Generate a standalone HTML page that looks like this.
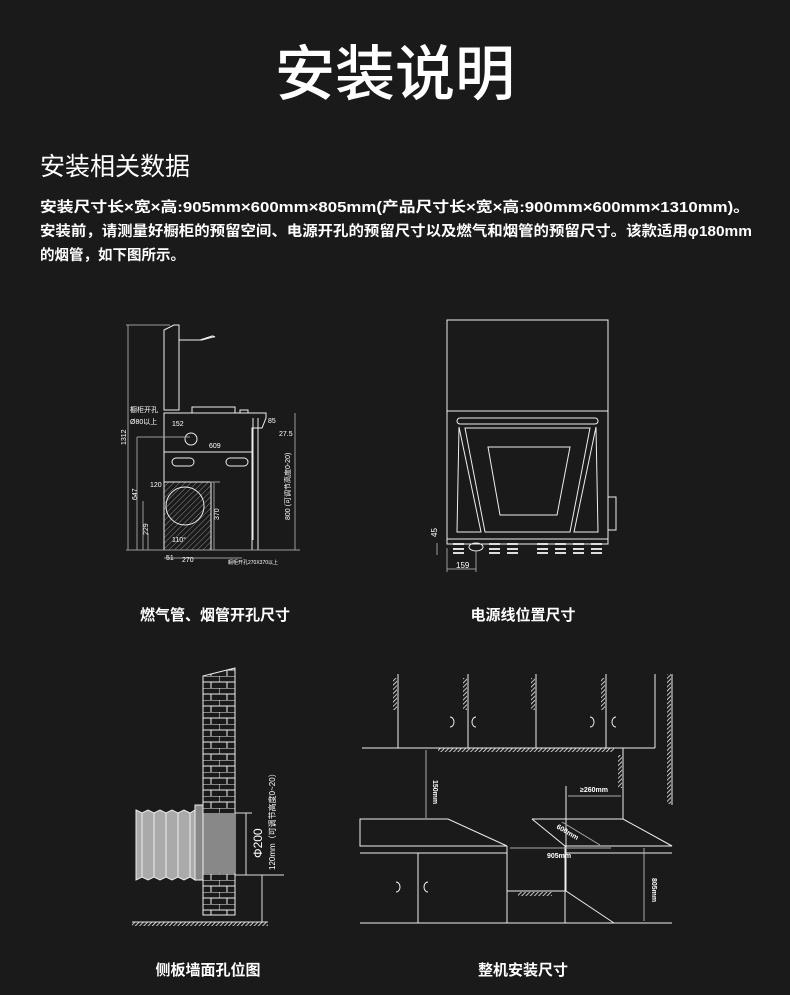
<!DOCTYPE html>
<html><head><meta charset="utf-8"><style>
html,body{margin:0;padding:0;background:#1a1a1a;}
svg{display:block}
text{font-family:"Liberation Sans","Noto Sans CJK SC",sans-serif;fill:#fff}
</style></head><body>
<svg width="790" height="995" viewBox="0 0 790 995" xmlns="http://www.w3.org/2000/svg">
<defs>
<pattern id="h" width="3" height="3" patternUnits="userSpaceOnUse" patternTransform="rotate(45)"><line x1="0" y1="0" x2="0" y2="3" stroke="#eee" stroke-width="1.6"/></pattern>
<pattern id="h2" width="4" height="4" patternUnits="userSpaceOnUse" patternTransform="rotate(45)"><line x1="0" y1="0" x2="0" y2="4" stroke="#888" stroke-width="1"/></pattern>
<pattern id="brick" width="16" height="12" patternUnits="userSpaceOnUse" x="203" y="676"><rect width="16" height="12" fill="#1a1a1a"/><path d="M0 0H16M0 6H16M0 0V6M8 6V12" stroke="#eee" stroke-width="1" fill="none"/></pattern>
</defs>
<rect width="790" height="995" fill="#1a1a1a"/>
<text x="395" y="95" font-size="60" text-anchor="middle" font-weight="500">安装说明</text>
<text x="40" y="175" font-size="25">安装相关数据</text>
<g font-size="14.5" font-weight="bold">
<text x="40" y="212" textLength="710" lengthAdjust="spacingAndGlyphs">安装尺寸长×宽×高:905mm×600mm×805mm(产品尺寸长×宽×高:900mm×600mm×1310mm)。</text>
<text x="40" y="236" textLength="712" lengthAdjust="spacingAndGlyphs">安装前，请测量好橱柜的预留空间、电源开孔的预留尺寸以及燃气和烟管的预留尺寸。该款适用φ180mm</text>
<text x="40" y="260">的烟管，如下图所示。</text>
</g>
<g font-size="15" font-weight="bold" text-anchor="middle">
<text x="215" y="620">燃气管、烟管开孔尺寸</text>
<text x="523" y="620">电源线位置尺寸</text>
<text x="208" y="975">侧板墙面孔位图</text>
<text x="523" y="975">整机安装尺寸</text>
</g>

<!-- Diagram 1 -->
<g stroke="#eee" stroke-width="1" fill="none">
<path d="M164 330L174 325H179V410H164Z"/>
<path d="M179 340H200L212 336H213L215 337H213L202 340H179"/>
<rect x="192" y="407" width="43" height="6"/>
<path d="M240 410h8v3h-8z"/>
<path d="M164 413H266V418L262 428H252V550H164Z"/>
<path d="M164 452H252"/>
<rect x="172" y="458" width="22" height="8" rx="4"/>
<rect x="226" y="458" width="22" height="8" rx="4"/>
<circle cx="191" cy="439" r="6"/>
<rect x="164" y="482" width="47" height="68" fill="url(#h2)"/>
<circle cx="185" cy="506" r="19"/>
<path d="M253 418V540M258 418V550"/>
<path d="M128 325V550M295 413V550M137 437V550M143 501V550M148 533V550" stroke="#999"/>
<path d="M126 550H300M126 325H170M137 437H190M210 482H220M214 482V550M164 558H242" stroke="#999"/>
</g>
<g font-size="7" fill="#ddd" stroke="none">
<text x="130" y="412">橱柜开孔</text><text x="130" y="424">Ø80以上</text>
<text x="172" y="426">152</text><text x="209" y="448">609</text><text x="279" y="436">27.5</text><text x="268" y="423">85</text>
<text x="150" y="487">120</text><text x="172" y="542">110°</text><text x="166" y="560">51</text><text x="182" y="562">270</text>
<text x="228" y="564" font-size="5">橱柜开孔270X370以上</text>
<text transform="translate(126 445) rotate(-90)">1312</text>
<text transform="translate(137 500) rotate(-90)">647</text>
<text transform="translate(148 535) rotate(-90)">229</text>
<text transform="translate(219 520) rotate(-90)">370</text>
<text transform="translate(290 520) rotate(-90)">800 (可调节高度0-20)</text>
</g>

<!-- Diagram 2 -->
<g stroke="#eee" stroke-width="1" fill="none">
<rect x="447" y="320" width="161" height="91"/>
<rect x="447" y="411" width="161" height="133"/>
<rect x="457" y="418" width="141" height="6" rx="3"/>
<path d="M459 427L481 532H457ZM596 427L574 532H598Z"/>
<path d="M465 428H590L570 532H485Z"/>
<path d="M488 447H570L557 515H500Z"/>
<rect x="608" y="497" width="8" height="33"/>
<path d="M447 539H608"/>
</g>
<g fill="#ddd">
<rect x="453" y="543" width="11" height="2"/><rect x="453" y="548" width="11" height="2"/><rect x="453" y="552" width="11" height="2"/>
<rect x="489" y="543" width="11" height="2"/><rect x="507" y="543" width="11" height="2"/><rect x="537" y="543" width="11" height="2"/><rect x="555" y="543" width="11" height="2"/><rect x="573" y="543" width="11" height="2"/><rect x="591" y="543" width="11" height="2"/>
<rect x="489" y="548" width="11" height="2"/><rect x="507" y="548" width="11" height="2"/><rect x="537" y="548" width="11" height="2"/><rect x="555" y="548" width="11" height="2"/><rect x="573" y="548" width="11" height="2"/><rect x="591" y="548" width="11" height="2"/>
<rect x="489" y="552" width="11" height="2"/><rect x="507" y="552" width="11" height="2"/><rect x="537" y="552" width="11" height="2"/><rect x="555" y="552" width="11" height="2"/><rect x="573" y="552" width="11" height="2"/><rect x="591" y="552" width="11" height="2"/>
</g>
<ellipse cx="476" cy="547" rx="7" ry="4" stroke="#eee" fill="none"/>
<path d="M447 548V572M476 550V572M447 569H476M437 543V555" stroke="#999" fill="none"/>
<text x="456" y="568" font-size="8" fill="#ddd">159</text>
<text transform="translate(437 537) rotate(-90)" font-size="8">45</text>

<!-- Diagram 3 -->
<path d="M203 676L235 668V915H203Z" fill="url(#brick)" stroke="#eee"/>
<rect x="203" y="813" width="32" height="60" fill="#888"/>
<path d="M195 805H203V880H195Z" fill="#888" stroke="#eee"/>
<path d="M136 810L142 813L148 810L154 813L160 810L166 813L172 810L178 813L184 810L190 813L195 810V880L190 877L184 880L178 877L172 880L166 877L160 880L154 877L148 880L142 877L136 880Z" fill="#aaa" stroke="#eee"/>
<path d="M142 813V877M154 813V877M166 813V877M178 813V877M190 813V877" stroke="#eee"/>
<path d="M235 813H252M235 875H284M246 813V875M262 875V922M132 922H268" stroke="#ddd" fill="none"/>
<rect x="132" y="922" width="136" height="4" fill="url(#h)"/>
<text transform="translate(262 858) rotate(-90)" font-size="12">Φ200</text>
<text transform="translate(275 870) rotate(-90)" font-size="8">120mm（可调节高度0~20）</text>

<!-- Diagram 4 -->
<g stroke="#eee" stroke-width="1" fill="none">
<path d="M398 674V748M468 674V748M536 674V748M606 674V748M655 674V748M672 674V805"/>
<path d="M362 748H655M623 748V819"/>
<path d="M360 819H448L507 846H360ZM532 819H623L672 846H565L532 819"/>
<path d="M360 853H507V923H360M418 853V923M507 846V853M565 846V923H672M565 853H672M507 891H566L614 923"/>
<path d="M566 786V891"/>
<path d="M360 923H672"/>
<path d="M450 717a4 5 0 0 1 0 10M476 717a4 5 0 0 0 0 10M590 717a4 5 0 0 1 0 10M616 717a4 5 0 0 0 0 10M396 882a4 5 0 0 1 0 10M428 882a4 5 0 0 0 0 10"/>
</g>
<rect x="393" y="678" width="4" height="32" fill="url(#h)"/>
<rect x="463" y="678" width="4" height="32" fill="url(#h)"/>
<rect x="531" y="678" width="4" height="32" fill="url(#h)"/>
<rect x="601" y="678" width="4" height="32" fill="url(#h)"/>
<rect x="667" y="674" width="4" height="130" fill="url(#h)"/>
<rect x="438" y="748" width="176" height="4" fill="url(#h)"/>
<rect x="618" y="755" width="4" height="33" fill="url(#h)"/>
<rect x="518" y="892" width="34" height="4" fill="url(#h)"/>
<path d="M426 750V818M568 796H621M510 848H611M562 822L600 845M644 848V921" stroke="#aaa" fill="none"/>
<g font-size="7" font-weight="bold">
<text transform="translate(433 780) rotate(90)">150mm</text>
<text x="580" y="792">≥260mm</text>
<text x="547" y="858">905mm</text>
<text transform="translate(556 828) rotate(30)">600mm</text>
<text transform="translate(652 878) rotate(90)">805mm</text>
</g>
</svg>
</body></html>
